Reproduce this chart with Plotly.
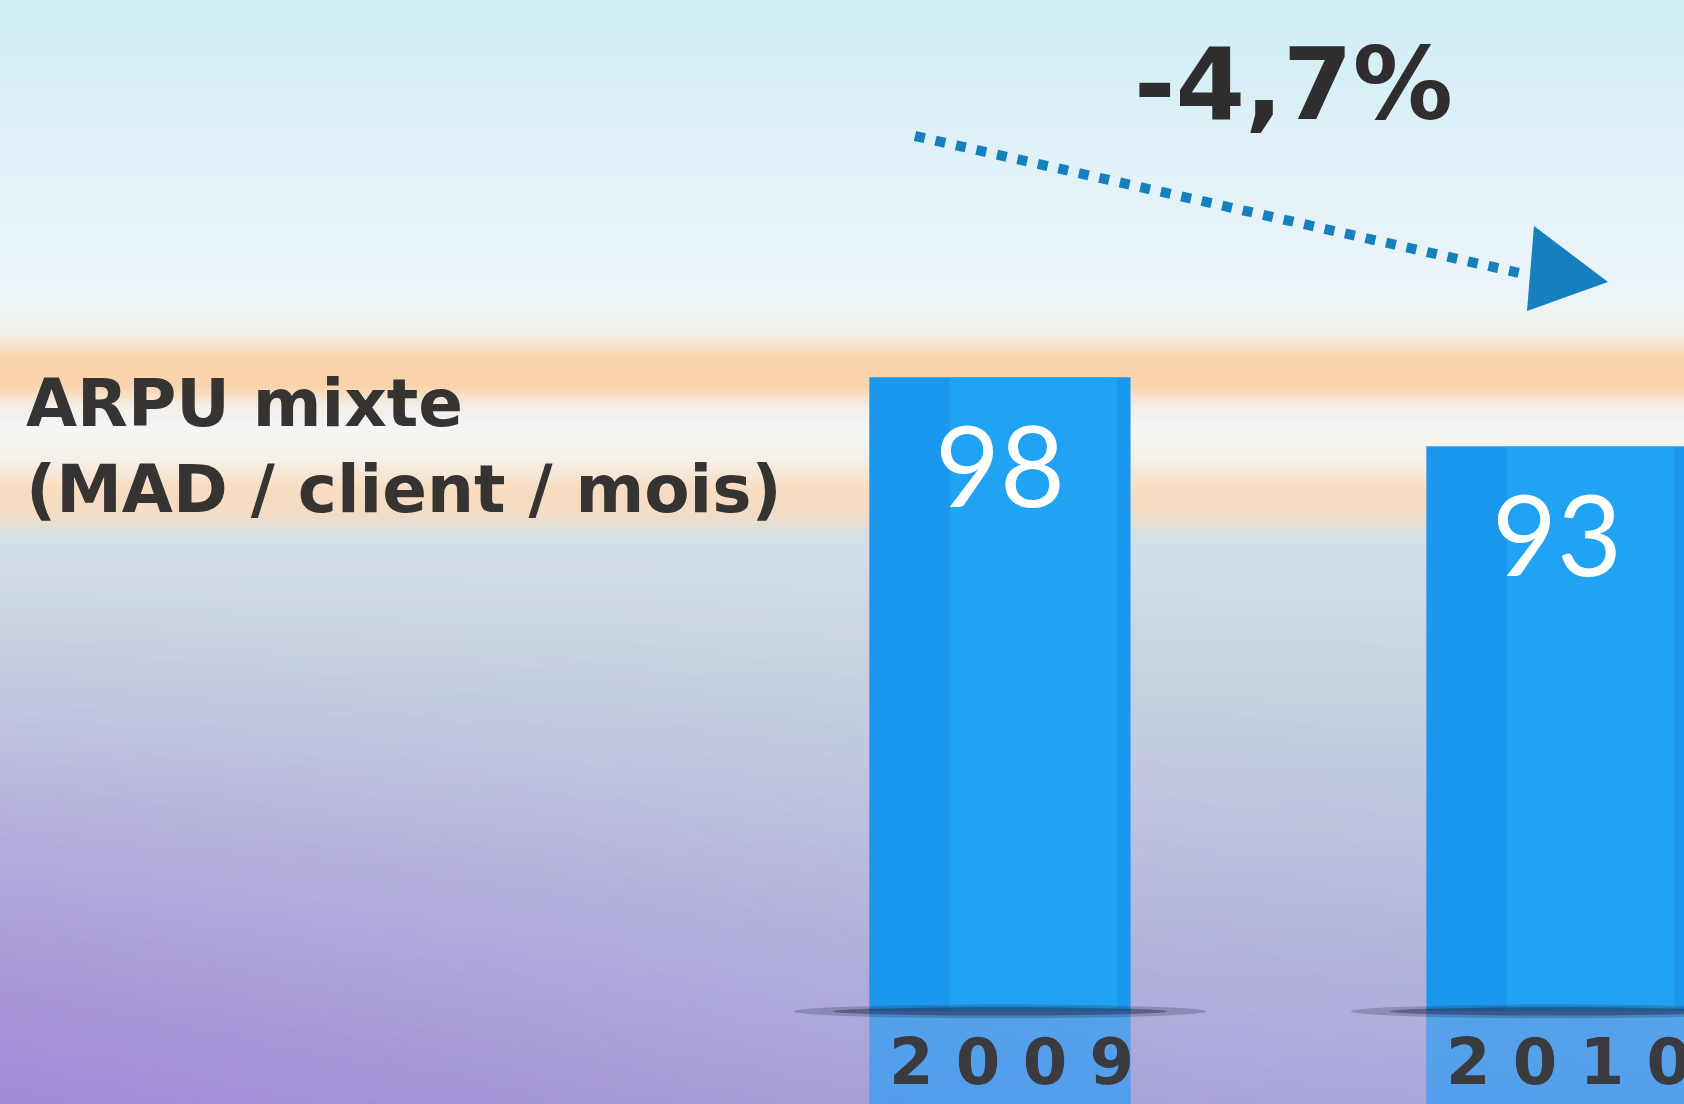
import plotly.graph_objects as go

# chart data
years = ["2009", "2010"]
arpu = [98, 93]
change_label = "-4,7%"
title_lines = ["ARPU mixte", "(MAD / client / mois)"]

W, H = 1684, 1104

# value axis: bars stand on a "floor" well above zero
AXIS_BASE = 52.1
Y_RANGE = [45.4, 125.3]
X_RANGE = [-1.795, 1.228]
BAR_WIDTH = 0.469

BAR_COLOR = "#1b97ee"
SHEEN_COLOR = "rgba(45,190,252,0.32)"
REFLECT_COLOR = "rgba(30,155,245,0.62)"
ARROW_COLOR = "#1580bd"
TEXT_DARK = "#363333"

# background sky: vertical ramp, 0 = top edge, 1 = bottom edge
sky_stops = [0.0, 0.136, 0.272, 0.303, 0.322, 0.349, 0.367, 0.389, 0.417,
             0.444, 0.466, 0.485, 0.634, 0.797, 1.0]
sky_colors = ["#cfedf6", "#dff1f7", "#edf4f8", "#f2efe9", "#f9d6b0", "#f9d3aa",
              "#f4eee6", "#f5f7f6", "#f5efe6", "#f8dcbf", "#f3dcc6", "#d5dfe6",
              "#c8d5e2", "#bcc3de", "#acaedb"]
# purple tint, strongest at the bottom left
tint_x = [0, 900, W]
tint_y = [0, 560, H]
tint_z = [[0, 0, 0],
          [0, 0, 0],
          [1, 0.35, 0.15]]

pos = list(range(len(years)))

fig = go.Figure()

fig.add_trace(go.Heatmap(
    x=[0, W], y=[0, H], z=[[0, 0], [1, 1]],
    zmin=0, zmax=1, zsmooth="best", showscale=False, hoverinfo="skip",
    colorscale=[[p, c] for p, c in zip(sky_stops, sky_colors)],
))
fig.add_trace(go.Heatmap(
    x=tint_x, y=tint_y, z=tint_z,
    zmin=0, zmax=1, zsmooth="best", showscale=False, hoverinfo="skip",
    colorscale=[[0, "rgba(150,100,210,0)"], [1, "rgba(150,100,210,0.5)"]],
))

# reflection on the floor, then the bars and a light sheen on them
fig.add_trace(go.Bar(
    x=pos, y=[-(v - AXIS_BASE) for v in arpu], base=AXIS_BASE,
    width=BAR_WIDTH, marker=dict(color=REFLECT_COLOR, line=dict(width=0)),
    xaxis="x2", yaxis="y2", hoverinfo="skip",
))
fig.add_trace(go.Bar(
    x=pos, y=[v - AXIS_BASE for v in arpu], base=AXIS_BASE,
    width=BAR_WIDTH, marker=dict(color=BAR_COLOR, line=dict(width=0)),
    xaxis="x2", yaxis="y2", hoverinfo="skip",
))
fig.add_trace(go.Bar(
    x=pos, y=[v - AXIS_BASE for v in arpu], base=AXIS_BASE,
    width=0.30, offset=-0.09, marker=dict(color=SHEEN_COLOR, line=dict(width=0)),
    xaxis="x2", yaxis="y2", hoverinfo="skip",
))

shapes = []
for i in pos:
    shapes.append(dict(
        type="circle", xref="x2", yref="y2",
        x0=i - 0.37, x1=i + 0.37, y0=AXIS_BASE - 0.5, y1=AXIS_BASE + 0.5,
        fillcolor="rgba(40,40,70,0.25)", line=dict(width=0), layer="above",
    ))
    shapes.append(dict(
        type="circle", xref="x2", yref="y2",
        x0=i - 0.3, x1=i + 0.3, y0=AXIS_BASE - 0.3, y1=AXIS_BASE + 0.3,
        fillcolor="rgba(30,30,60,0.4)", line=dict(width=0), layer="above",
    ))

# dotted trend arrow (pixel coordinates on the background axes)
shapes.append(dict(
    type="line", xref="x", yref="y", x0=915, y0=136, x1=1524, y1=274,
    line=dict(color=ARROW_COLOR, width=10, dash="10px,11px"),
))
shapes.append(dict(
    type="path", xref="x", yref="y", path="M 1534 226 L 1608 282 L 1527 311 Z",
    fillcolor=ARROW_COLOR, line=dict(width=0),
))

annotations = []
for i, (yr, v) in enumerate(zip(years, arpu)):
    annotations.append(dict(
        x=i, y=v, xref="x2", yref="y2", text=str(v), showarrow=False,
        yanchor="middle", yshift=-86,
        font=dict(family="Lato", size=112, color="white"),
    ))
    annotations.append(dict(
        x=i, y=AXIS_BASE, xref="x2", yref="y2", text=" ".join(yr),
        showarrow=False, yanchor="middle", yshift=-51, xshift=12,
        font=dict(family="DejaVu Sans", size=64, color="#3a3a3f", weight="bold"),
    ))

annotations.append(dict(
    x=24, y=446, xref="x", yref="y", text="<br>".join(title_lines),
    showarrow=False, xanchor="left", yanchor="middle", align="left",
    font=dict(family="DejaVu Sans", size=66, color=TEXT_DARK, weight="bold"),
))
annotations.append(dict(
    x=1293, y=84, xref="x", yref="y", text=change_label, showarrow=False,
    xanchor="center", yanchor="middle",
    font=dict(family="DejaVu Sans", size=100, color="#2f2d2d", weight="bold"),
))

fig.update_layout(
    width=W, height=H,
    margin=dict(l=0, r=0, t=0, b=0),
    paper_bgcolor="#dfe8f0", plot_bgcolor="rgba(0,0,0,0)",
    showlegend=False, barmode="overlay",
    xaxis=dict(range=[0, W], visible=False, fixedrange=True),
    yaxis=dict(range=[H, 0], visible=False, fixedrange=True),
    xaxis2=dict(overlaying="x", range=X_RANGE, visible=False, fixedrange=True),
    yaxis2=dict(overlaying="y", range=Y_RANGE, visible=False, fixedrange=True),
    shapes=shapes,
    annotations=annotations,
)

fig.write_html("out.html", config={"displayModeBar": False},
               post_script="document.body.style.margin = '0';")
